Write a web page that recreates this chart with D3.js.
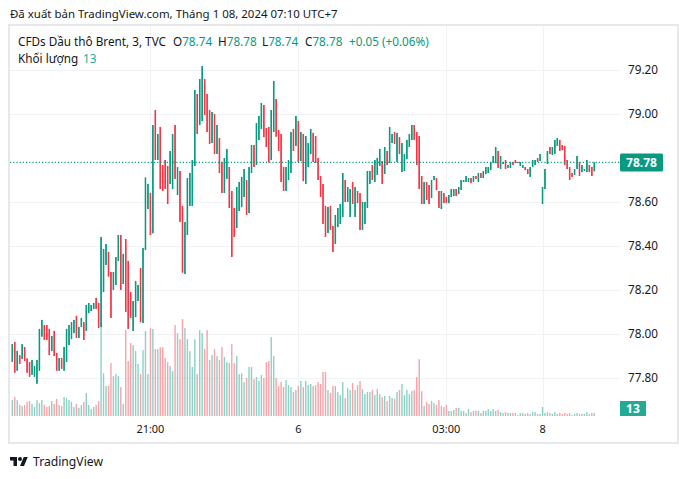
<!DOCTYPE html>
<html><head><meta charset="utf-8">
<script src="https://cdn.jsdelivr.net/npm/d3@7"></script>
<style>html,body{margin:0;padding:0;background:#fff;}svg{display:block;}</style>
</head><body>
<svg id="c" width="682" height="479"></svg>
<script>
// ---- data (3-minute candles, CFDs Brent, TVC) ----
const open = [77.873,77.964,77.833,77.904,77.886,77.941,77.889,77.873,77.815,77.806,
77.774,77.833,77.988,78.041,78.041,78.023,77.923,78.014,77.914,77.833,
77.891,77.833,77.873,77.950,77.977,78.004,78.082,77.982,78.032,78.054,
78.014,78.095,78.104,78.114,78.164,78.141,78.032,78.191,78.314,78.373,
78.282,78.200,78.223,78.332,78.450,78.227,78.432,78.332,78.191,78.014,
78.077,78.150,78.300,78.050,78.382,78.568,78.641,78.458,79.018,78.791,
78.941,78.768,78.791,78.764,78.682,78.659,78.950,78.632,78.741,78.582,
78.273,78.450,78.582,78.582,78.764,79.091,78.950,78.968,79.159,79.091,
79.018,78.868,79.000,78.818,78.891,78.782,78.641,78.705,78.759,78.650,
78.573,78.482,78.559,78.577,78.623,78.700,78.550,78.732,78.859,78.768,
78.882,78.932,79.041,78.936,78.941,78.791,78.918,79.068,78.927,78.909,
78.759,78.650,78.700,78.732,78.932,78.855,78.968,78.786,78.909,78.682,
78.759,78.818,78.914,78.900,78.800,78.718,78.682,78.582,78.459,78.582,
78.491,78.409,78.486,78.500,78.532,78.700,78.600,78.532,78.691,78.532,
78.650,78.641,78.473,78.500,78.573,78.682,78.768,78.691,78.723,78.764,
78.786,78.727,78.832,78.777,78.868,78.918,78.782,78.895,78.736,78.741,
78.795,78.850,78.882,78.950,78.918,78.900,78.718,78.591,78.691,78.677,
78.618,78.700,78.709,78.650,78.568,78.641,78.623,78.595,78.623,78.627,
78.659,78.636,78.655,78.691,78.691,78.691,78.709,78.691,78.718,78.691,
78.732,78.709,78.727,78.732,78.745,78.777,78.777,78.832,78.750,78.773,
78.791,78.755,78.755,78.782,78.791,78.782,78.764,78.755,78.759,78.750,
78.714,78.759,78.768,78.800,78.786,78.591,78.659,78.773,78.850,78.814,
78.818,78.855,78.882,78.859,78.855,78.791,78.759,78.732,78.723,78.750,
78.782,78.736,78.741,78.736,78.768,78.759,78.74];
const high = [77.954,77.964,77.923,77.904,77.954,77.941,77.889,77.873,77.882,77.854,
77.882,78.023,78.064,78.041,78.041,78.023,77.991,78.014,77.914,77.891,
77.891,77.941,78.023,78.041,78.054,78.064,78.082,78.032,78.073,78.054,
78.132,78.141,78.132,78.141,78.164,78.141,78.441,78.386,78.409,78.373,
78.282,78.282,78.350,78.450,78.450,78.364,78.432,78.332,78.191,78.150,
78.241,78.223,78.300,78.391,78.711,78.682,78.641,78.950,79.018,78.909,
78.941,78.768,78.791,78.764,78.832,78.909,78.950,78.759,78.741,78.582,
78.509,78.709,78.732,78.791,79.109,79.091,79.159,79.218,79.159,79.091,
79.018,79.009,79.000,78.950,78.891,78.782,78.800,78.841,78.759,78.650,
78.573,78.668,78.691,78.714,78.750,78.700,78.759,78.859,78.859,78.959,
78.991,79.050,79.041,78.936,78.941,79.018,79.150,79.068,78.927,78.909,
78.759,78.759,78.791,78.918,78.932,78.991,78.968,78.918,78.909,78.900,
78.868,78.932,78.914,78.900,78.800,78.718,78.682,78.582,78.577,78.582,
78.491,78.541,78.573,78.591,78.732,78.700,78.668,78.659,78.691,78.668,
78.650,78.641,78.600,78.600,78.741,78.741,78.768,78.791,78.800,78.841,
78.786,78.850,78.832,78.941,78.909,78.918,78.914,78.895,78.868,78.818,
78.882,78.909,78.950,78.950,78.918,78.900,78.718,78.691,78.691,78.677,
78.700,78.718,78.709,78.650,78.650,78.641,78.623,78.632,78.659,78.659,
78.659,78.668,78.700,78.700,78.718,78.709,78.709,78.718,78.718,78.732,
78.732,78.741,78.759,78.759,78.782,78.809,78.850,78.832,78.809,78.782,
78.791,78.768,78.782,78.782,78.791,78.782,78.782,78.768,78.759,78.750,
78.759,78.791,78.791,78.800,78.818,78.668,78.750,78.832,78.850,78.850,
78.882,78.891,78.882,78.859,78.855,78.791,78.759,78.732,78.750,78.809,
78.782,78.768,78.750,78.791,78.768,78.759,78.78];
const low = [77.873,77.824,77.833,77.864,77.886,77.877,77.824,77.806,77.815,77.806,
77.774,77.833,77.988,77.973,77.973,77.904,77.923,77.900,77.833,77.833,
77.842,77.833,77.873,77.950,77.977,78.004,77.982,77.982,78.032,77.973,
78.014,78.095,78.104,78.114,78.114,78.027,78.032,78.191,78.314,78.261,
78.073,78.200,78.223,78.332,78.200,78.227,78.100,78.023,78.073,78.014,
78.077,78.150,78.054,78.050,78.382,78.568,78.450,78.458,78.791,78.791,
78.659,78.650,78.659,78.591,78.682,78.659,78.705,78.632,78.509,78.279,
78.273,78.450,78.582,78.582,78.764,78.909,78.950,78.968,78.995,78.918,
78.864,78.868,78.818,78.818,78.732,78.641,78.641,78.705,78.573,78.350,
78.441,78.482,78.559,78.577,78.623,78.541,78.550,78.732,78.759,78.768,
78.882,78.932,78.895,78.850,78.780,78.791,78.918,78.897,78.832,78.691,
78.650,78.650,78.700,78.732,78.832,78.855,78.780,78.786,78.695,78.682,
78.759,78.818,78.782,78.777,78.700,78.623,78.500,78.441,78.459,78.473,
78.373,78.409,78.486,78.500,78.532,78.600,78.600,78.532,78.591,78.532,
78.595,78.473,78.473,78.500,78.573,78.682,78.700,78.691,78.723,78.764,
78.682,78.727,78.768,78.777,78.868,78.864,78.782,78.818,78.736,78.741,
78.795,78.850,78.882,78.882,78.768,78.659,78.591,78.591,78.609,78.591,
78.618,78.700,78.654,78.573,78.568,78.595,78.595,78.595,78.623,78.627,
78.627,78.636,78.655,78.691,78.691,78.691,78.686,78.691,78.705,78.691,
78.709,78.709,78.727,78.732,78.745,78.777,78.777,78.755,78.750,78.773,
78.750,78.755,78.755,78.768,78.777,78.777,78.764,78.755,78.745,78.727,
78.714,78.759,78.768,78.782,78.786,78.591,78.659,78.773,78.818,78.814,
78.818,78.855,78.832,78.836,78.768,78.750,78.700,78.714,78.723,78.750,
78.718,78.736,78.741,78.736,78.736,78.718,78.74];
const close = [77.954,77.824,77.923,77.864,77.954,77.877,77.824,77.806,77.882,77.854,
77.882,78.023,78.064,77.973,77.973,77.904,77.991,77.900,77.833,77.891,
77.842,77.941,78.023,78.041,78.054,78.064,77.982,78.032,78.073,77.973,
78.132,78.141,78.132,78.141,78.114,78.027,78.441,78.386,78.409,78.261,
78.073,78.282,78.350,78.450,78.200,78.364,78.100,78.023,78.073,78.150,
78.241,78.223,78.054,78.391,78.711,78.682,78.450,78.950,78.791,78.909,
78.659,78.650,78.659,78.591,78.832,78.909,78.705,78.759,78.509,78.279,
78.509,78.709,78.732,78.791,79.109,78.909,79.159,79.218,78.995,78.918,
78.864,79.009,78.818,78.950,78.732,78.641,78.800,78.841,78.573,78.350,
78.441,78.668,78.691,78.714,78.750,78.541,78.759,78.859,78.759,78.959,
78.991,79.050,78.895,78.850,78.780,79.018,79.150,78.897,78.832,78.691,
78.650,78.759,78.791,78.918,78.832,78.991,78.780,78.918,78.695,78.900,
78.868,78.932,78.782,78.777,78.700,78.623,78.500,78.441,78.577,78.473,
78.373,78.541,78.573,78.591,78.732,78.600,78.668,78.659,78.591,78.668,
78.595,78.473,78.600,78.600,78.741,78.741,78.700,78.791,78.800,78.841,
78.682,78.850,78.768,78.941,78.909,78.864,78.914,78.818,78.868,78.818,
78.882,78.909,78.950,78.882,78.768,78.659,78.591,78.691,78.609,78.591,
78.700,78.718,78.654,78.573,78.650,78.595,78.595,78.632,78.659,78.659,
78.627,78.668,78.700,78.700,78.718,78.709,78.686,78.718,78.705,78.732,
78.709,78.741,78.759,78.759,78.782,78.809,78.850,78.755,78.809,78.782,
78.750,78.768,78.782,78.768,78.777,78.777,78.782,78.768,78.745,78.727,
78.759,78.791,78.791,78.782,78.818,78.668,78.750,78.832,78.818,78.850,
78.882,78.891,78.832,78.836,78.768,78.750,78.700,78.714,78.750,78.809,
78.718,78.768,78.750,78.791,78.736,78.718,78.78];
const volume = [69,82,69,48,43,48,61,65,52,39,
69,56,69,48,39,43,65,52,74,48,
43,82,78,69,61,39,52,35,48,61,
100,48,30,39,48,65,404,186,130,130,
230,173,182,173,126,52,373,239,317,308,
282,226,182,286,369,182,382,378,291,291,
299,299,252,234,217,195,395,360,334,421,
382,334,282,213,334,182,373,360,291,373,
243,265,291,260,243,299,256,234,230,312,
230,260,182,186,147,165,213,213,160,169,
152,178,165,234,239,343,260,165,130,147,
126,156,134,126,104,113,130,152,126,152,
134,139,130,134,147,139,191,191,113,100,
130,130,104,91,147,78,121,113,143,113,
134,152,117,95,104,104,113,91,117,95,
82,87,65,87,78,74,104,113,139,91,
113,95,108,113,169,247,108,43,61,52,
65,56,48,69,43,39,48,22,22,26,
35,35,22,22,13,30,17,22,22,22,
13,22,22,30,22,30,22,26,17,13,
17,13,13,13,13,4,13,13,9,13,
9,17,17,9,9,39,13,17,13,9,
17,9,13,9,13,9,13,4,9,13,
9,9,9,17,9,13,13];
// 78.80 is hidden behind the last-price label, as in the reference
const priceTicks = [77.80, 78.00, 78.20, 78.40, 78.60, 79.00, 79.20];
const timeTickBars = [56, 116, 176, 215];
const timeTickLabels = ["21:00", "6", "03:00", "8"];
const lastPrice = 78.78;
const lastVolume = 13;
const titleText = "Đã xuất bản TradingView.com, Tháng 1 08, 2024 07:10 UTC+7";
const symbolText = "CFDs Dầu thô Brent, 3, TVC";
const changeText = "+0.05 (+0.06%)";
const volumeText = "Khối lượng";

// ---- drawing ----
const svg = d3.select("#c");
const UP = "#089981", DN = "#f23645";
const UPV = "#8dd0c5", DNV = "#f7a3a9";
const FONT = "'Noto Sans', sans-serif";
const TXT = "#131722";

// font size so that a probe string spans a given width
function fitSize(str, width, weight) {
  const base = 12;
  const t = svg.append("text").attr("font-family", FONT).attr("font-size", base)
    .attr("font-weight", weight || "normal").text(str);
  const w = t.node().getComputedTextLength();
  t.remove();
  return base * width / w;
}
const fitted = [];
function fit(sel, str, width, weight) {
  fitted.push({sel, str, width, weight});
  sel.attr("font-size", fitSize(str, width, weight));
  return sel;
}
function refit() {
  fitted.forEach(f => f.sel.attr("font-size", fitSize(f.str, f.width, f.weight)));
}

const paneL = 10, paneR = 620, paneT = 26, paneB = 416;
const x = d3.scaleLinear().domain([0, open.length - 1]).range([12.3, 594.3]);
const y = d3.scaleLinear().domain([77.80, 79.20]).range([378, 70]);
const yv = d3.scaleLinear().domain([0, 430]).range([paneB, paneB - 99]);

// frame
svg.append("rect").attr("x", 9).attr("y", 25).attr("width", 669).attr("height", 418)
  .attr("fill", "#fff").attr("stroke", "#e6e8ee").attr("stroke-width", 2);

// title
fit(svg.append("text").attr("x", 10).attr("y", 18).attr("font-family", FONT)
  .attr("fill", TXT).text(titleText), titleText, 328);

// grid
const g = svg.append("g");
g.selectAll("line.h").data(priceTicks).join("line")
  .attr("x1", paneL).attr("x2", paneR)
  .attr("y1", d => Math.round(y(d)) + 0.5).attr("y2", d => Math.round(y(d)) + 0.5)
  .attr("stroke", "#f0f2f5").attr("stroke-width", 1);
g.selectAll("line.v").data(timeTickBars).join("line")
  .attr("x1", d => Math.round(x(d)) + 0.5).attr("x2", d => Math.round(x(d)) + 0.5)
  .attr("y1", paneT).attr("y2", paneB)
  .attr("stroke", "#f0f2f5").attr("stroke-width", 1);

const idx = d3.range(open.length);
// volume
svg.append("g").selectAll("rect").data(idx).join("rect")
  .attr("x", i => x(i) - 0.7).attr("width", 1.4)
  .attr("y", i => yv(volume[i])).attr("height", i => paneB - yv(volume[i]))
  .attr("fill", i => close[i] >= open[i] ? UPV : DNV);

// candles
const cg = svg.append("g");
cg.selectAll("line").data(idx).join("line")
  .attr("x1", i => x(i)).attr("x2", i => x(i))
  .attr("y1", i => y(high[i])).attr("y2", i => y(low[i]))
  .attr("stroke", i => close[i] >= open[i] ? UP : DN).attr("stroke-width", 1);
cg.selectAll("rect").data(idx).join("rect")
  .attr("x", i => x(i) - 0.75).attr("width", 1.5)
  .attr("y", i => y(Math.max(open[i], close[i])))
  .attr("height", i => Math.max(1, y(Math.min(open[i], close[i])) - y(Math.max(open[i], close[i]))))
  .attr("fill", i => close[i] >= open[i] ? UP : DN);

// last price dotted line
svg.append("line").attr("x1", paneL).attr("x2", paneR)
  .attr("y1", y(lastPrice)).attr("y2", y(lastPrice))
  .attr("stroke", UP).attr("stroke-width", 1.2).attr("stroke-dasharray", "1.2,2");

// price axis labels
fit(svg.append("g").attr("font-family", FONT).attr("fill", TXT), "79.20", 30)
  .selectAll("text").data(priceTicks).join("text")
  .attr("x", 628).attr("y", d => y(d)).attr("dy", "0.35em")
  .text(d => d.toFixed(2));

// price badge
const py = y(lastPrice);
svg.append("rect").attr("x", 620).attr("y", py - 9).attr("width", 43).attr("height", 18)
  .attr("rx", 1.5).attr("fill", UP);
fit(svg.append("text").attr("x", 641.5).attr("y", py).attr("dy", "0.36em").attr("text-anchor", "middle")
  .attr("font-family", FONT).attr("font-weight", "bold").attr("fill", "#fff")
  .text(lastPrice.toFixed(2)), "78.78", 31, "bold");

// volume badge
const vy = Math.min(yv(lastVolume), paneB - 7.5);
svg.append("rect").attr("x", 620).attr("y", vy - 7.5).attr("width", 26).attr("height", 15)
  .attr("fill", "#22ab94");
fit(svg.append("text").attr("x", 633).attr("y", vy).attr("dy", "0.36em").attr("text-anchor", "middle")
  .attr("font-family", FONT).attr("font-weight", "bold").attr("fill", "#fff")
  .text(lastVolume), "78.78", 31, "bold");

// time axis labels
fit(svg.append("g").attr("font-family", FONT).attr("fill", TXT), "21:00", 28)
  .selectAll("text").data(timeTickBars).join("text")
  .attr("x", d => x(d)).attr("y", 429).attr("dy", "0.35em").attr("text-anchor", "middle")
  .text((d, i) => timeTickLabels[i]);

// legend
const leg = fit(svg.append("text").attr("y", 46).attr("font-family", FONT).attr("fill", TXT), symbolText, 148);
leg.append("tspan").attr("x", 18).text(symbolText);
const ohlc = [["O", open[open.length-1]], ["H", high[high.length-1]], ["L", low[low.length-1]], ["C", close[close.length-1]]];
const ox = [173, 218, 262, 305];
ohlc.forEach((d, i) => {
  leg.append("tspan").attr("x", ox[i]).text(d[0]);
  leg.append("tspan").attr("fill", UP).text(d[1].toFixed(2));
});
leg.append("tspan").attr("x", 349).attr("fill", UP).text(changeText);
const leg2 = fit(svg.append("text").attr("y", 63).attr("font-family", FONT).attr("fill", TXT), symbolText, 148);
leg2.append("tspan").attr("x", 18).text(volumeText);
leg2.append("tspan").attr("x", 83).attr("fill", "#22ab94").text(lastVolume);

// TradingView logo
const logo = svg.append("g").attr("transform", "translate(10,455) scale(0.5)");
logo.append("path").attr("d", "M14 22H7V11H0V4h14v18zM28 22h-8l7.5-18h8L28 22z").attr("fill", TXT);
logo.append("circle").attr("cx", 20).attr("cy", 8).attr("r", 4).attr("fill", TXT);
fit(svg.append("text").attr("x", 33).attr("y", 466).attr("font-family", FONT)
  .attr("fill", TXT).text("TradingView"), "TradingView", 70);

// re-measure once the fonts are surely in place
refit();
if (document.fonts && document.fonts.ready) document.fonts.ready.then(refit);
setTimeout(refit, 50);
</script>
</body></html>
